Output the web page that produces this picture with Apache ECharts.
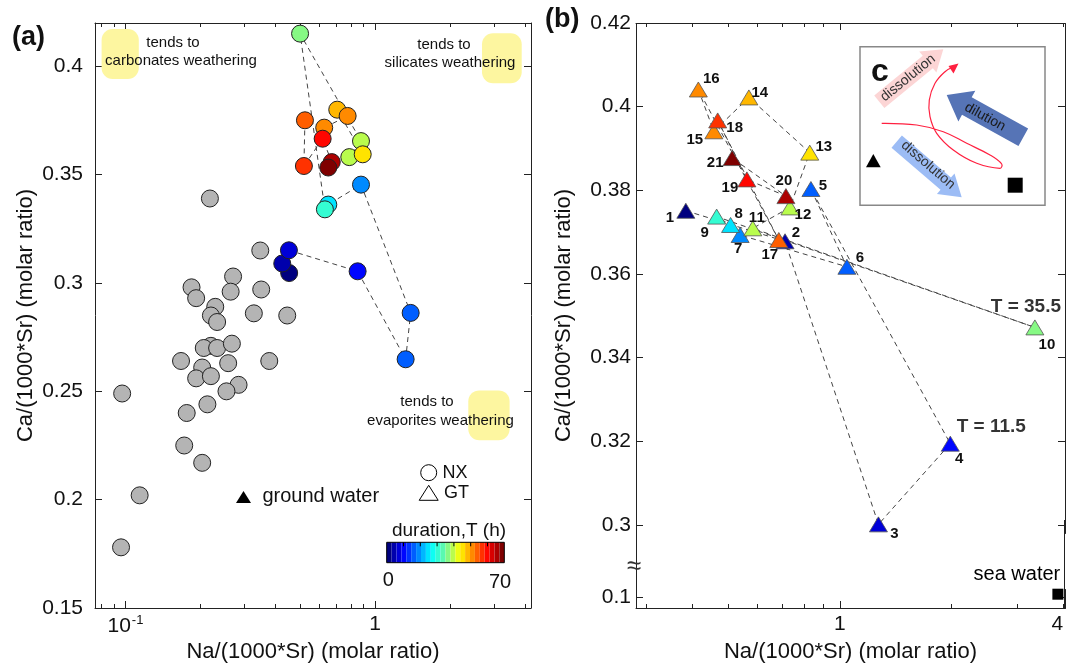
<!DOCTYPE html>
<html>
<head>
<meta charset="utf-8">
<script src="https://cdn.jsdelivr.net/npm/echarts@6.0.0/dist/echarts.min.js"></script>
<style>
  html, body { margin: 0; padding: 0; background: #fff; }
  #chart { width: 1066px; height: 669px; }
</style>
</head>
<body>
<div id="chart"></div>
<script>
const FONT = 'Liberation Sans, Arial, Helvetica, sans-serif';

// (a) grey samples
const greyNa = [0.218, 0.347, 0.270, 0.184, 0.192, 0.264, 0.350, 0.229, 0.220, 0.233, 0.327, 0.445, 0.220, 0.206, 0.233, 0.267,
  0.167, 0.203, 0.192, 0.220, 0.258, 0.377, 0.284, 0.254, 0.213, 0.176, 0.097, 0.172, 0.203, 0.114, 0.096];
const greyCa = [0.339, 0.315, 0.303, 0.298, 0.293, 0.296, 0.297, 0.289, 0.285, 0.282, 0.286, 0.285, 0.271, 0.270, 0.270, 0.272,
  0.264, 0.261, 0.256, 0.257, 0.263, 0.264, 0.253, 0.250, 0.244, 0.240, 0.249, 0.225, 0.217, 0.202, 0.178];

// (a) NX circles, samples 1..21
const nxNa = [0.453, 0.425, 0.452, 0.852, 1.327, 1.390, 0.879, 0.650, 0.630, 0.501, 0.879,
  0.789, 0.893, 0.706, 0.777, 0.626, 0.524, 0.519, 0.617, 0.671, 0.650];
const nxCa = [0.3046, 0.3090, 0.3151, 0.3054, 0.2648, 0.2862, 0.3454, 0.3362, 0.3340, 0.4151, 0.3655,
  0.3581, 0.3594, 0.3800, 0.3771, 0.3717, 0.3751, 0.3540, 0.3666, 0.3558, 0.3533];

// (b) GT triangles, samples 1..21
const gtNa = [0.384, 0.711, 1.27, 1.984, 0.835, 1.044, 0.538, 0.507, 0.465, 3.355, 0.582,
  0.733, 0.829, 0.568, 0.457, 0.415, 0.684, 0.468, 0.561, 0.715, 0.512];
const gtCa = [0.3751, 0.3678, 0.3001, 0.3194, 0.3803, 0.3617, 0.3693, 0.3717, 0.3737, 0.3472, 0.3709,
  0.3759, 0.3890, 0.4022, 0.3941, 0.4041, 0.3681, 0.3967, 0.3826, 0.3786, 0.3877];

// duration T (h) of samples 1..21
const duration = [0.5, 3.5, 7.5, 11.5, 15, 16.5, 19.5, 25, 30, 35.5, 38, 40.5, 44, 48, 50.5, 51.5, 54.5, 57, 61, 66, 68];

const seaWaterNa = [3.87];
const seaWaterCa = [0.1008];

const tNoteIndex = [3, 9];
const tNoteText = ['T = 11.5', 'T = 35.5'];

// ticks
const aMajorX = [0.1, 1];
const aMinorX = [0.08, 0.09, 0.2, 0.3, 0.4, 0.5, 0.6, 0.7, 0.8, 0.9, 2, 3, 4];
const aTicksY = [0.15, 0.2, 0.25, 0.3, 0.35, 0.4];
const bMajorX = [1];
const bLabelX = [1, 4];
const bMinorX = [0.3, 0.4, 0.5, 0.6, 0.7, 0.8, 0.9, 2, 3, 4];
const bTicksY = [0.1, 0.3, 0.32, 0.34, 0.36, 0.38, 0.4, 0.42];
const bBreak = [{ start: 0.102, end: 0.298, gap: 0.0134 }];

// label offsets of the sample numbers (px), style only
const gtLabelOffset = [[-16, 7], [11, -8], [16, 9], [9, 15], [12, -3], [13, -9], [-2, 14], [8, -11], [-12, 16], [12, 17], [4, -10],
  [13, 7], [14, -6], [11, -5], [-19, 9], [13, -11], [-9, 15], [17, 7], [-17, 8], [-2, -15], [-17, 5]];
const tNoteOffset = [[41, -17], [-9, -21]];

// jet, with the middle stop nudged toward the mint of the original
const jet = ['#00007f', '#0000ff', '#007fff', '#00ffff', '#6cf8a0', '#ffff00', '#ff7f00', '#ff0000', '#7f0000'];

const lineCol = '#222';
const A = { min: 0.0755, max: 4.22 };
const B = { min: 0.2818, max: 4.045 };

function xAxis(grid, pos, ext, ticks, len, opts) {
  opts = opts || {};
  return {
    type: 'log', logBase: 10, gridIndex: grid, position: pos, min: ext.min, max: ext.max,
    axisLine: { show: !!opts.line, onZero: false, lineStyle: { color: lineCol, width: 1 } },
    axisTick: { show: true, inside: true, length: len, customValues: ticks, lineStyle: { color: lineCol, width: 1 } },
    axisLabel: opts.labels ? {
      show: true, customValues: opts.labels, formatter: opts.fmt, margin: 6, alignMaxLabel: opts.alignMax,
      color: '#111', fontSize: 21, fontFamily: FONT, rich: opts.rich
    } : { show: false },
    splitLine: { show: false },
    name: opts.name, nameLocation: 'middle', nameGap: 33,
    nameTextStyle: { color: '#111', fontSize: 22, fontFamily: FONT }
  };
}

function yAxis(grid, pos, min, max, ticks, opts) {
  opts = opts || {};
  const ax = {
    type: 'value', gridIndex: grid, position: pos, min: min, max: max,
    axisLine: { show: true, onZero: false, lineStyle: { color: lineCol, width: 1 } },
    axisTick: { show: true, inside: true, length: 7, customValues: ticks, lineStyle: { color: lineCol, width: 1 } },
    axisLabel: opts.labels ? {
      show: true, customValues: ticks, margin: opts.margin, color: '#111', fontSize: 21, fontFamily: FONT
    } : { show: false },
    splitLine: { show: false },
    name: opts.name, nameLocation: 'middle', nameGap: opts.nameGap,
    nameTextStyle: { color: '#111', fontSize: 22, fontFamily: FONT }
  };
  if (opts.breaks) {
    ax.breaks = opts.breaks;
    ax.breakArea = {
      show: true, zigzagAmplitude: 0,
      itemStyle: { color: 'rgba(255,255,255,0)', borderColor: 'rgba(255,255,255,0)', borderWidth: 0, opacity: 0 }
    };
  }
  return ax;
}

function arrowPoints(tail, tip, sw, hw, hl) {
  const dx = tip[0] - tail[0], dy = tip[1] - tail[1];
  const L = Math.hypot(dx, dy), ux = dx / L, uy = dy / L, nx = -uy, ny = ux;
  const hx = tip[0] - ux * hl, hy = tip[1] - uy * hl;
  return [
    [tail[0] + nx * sw / 2, tail[1] + ny * sw / 2],
    [hx + nx * sw / 2, hy + ny * sw / 2],
    [hx + nx * hw / 2, hy + ny * hw / 2],
    tip,
    [hx - nx * hw / 2, hy - ny * hw / 2],
    [hx - nx * sw / 2, hy - ny * sw / 2],
    [tail[0] - nx * sw / 2, tail[1] - ny * sw / 2]
  ];
}

function txt(x, y, text, size, opts) {
  opts = opts || {};
  const align = opts.align || 'center';
  return {
    type: 'text', x: x, y: y, rotation: opts.rot || 0, z: 100, zlevel: opts.zlevel || 0, silent: true,
    style: {
      text: text, fill: opts.color || '#111',
      font: (opts.bold ? 'bold ' : '') + size + 'px ' + FONT,
      textAlign: align, align: align, textVerticalAlign: 'middle', verticalAlign: 'middle'
    }
  };
}

function poly(points, fill, stroke, lw) {
  return {
    type: 'polygon', z: 90, silent: true, shape: { points: points },
    style: { fill: fill, stroke: stroke || null, lineWidth: lw || 0 }
  };
}

function vline(x, y1, y2) {
  return {
    type: 'line', z: 100, zlevel: 1, silent: true,
    shape: { x1: x, y1: y1, x2: x, y2: y2 }, style: { stroke: lineCol, lineWidth: 1 }
  };
}

function yellowBox(x0, y0, x1, y1) {
  return {
    type: 'rect', z: 5, silent: true,
    shape: { x: x0, y: y0, width: x1 - x0, height: y1 - y0, r: 11 },
    style: { fill: '#fdf6a0' }
  };
}

// colorbar geometry (px)
const cb = { left: 386.7, top: 542.3, itemW: 4.9, h: 20.4, n: 24 };
const cbTicks = [];
for (let v = 10; v < 70; v += 10) {
  const x = cb.left + v / 70 * cb.itemW * cb.n;
  cbTicks.push({ type: 'line', z: 100, silent: true, shape: { x1: x, y1: cb.top, x2: x, y2: cb.top + 4 }, style: { stroke: '#000', lineWidth: 1 } });
}

const redCurve = [[881.7, 123.3], [916.7, 125], [943.3, 131.7], [966.7, 143.3], [990, 155], [1001.7, 164], [1000, 168.3],
  [976.7, 163.3], [953.3, 150], [936.7, 133.3], [930, 116.7], [929.3, 100], [935, 83.3], [945, 71.7], [953, 67]];

const graphic = [
  txt(12, 38, '(a)', 27, { bold: true, align: 'left' }),
  txt(545, 20, '(b)', 27, { bold: true, align: 'left' }),
  yellowBox(101.6, 29, 138.8, 79),
  yellowBox(482, 33.3, 521.7, 83.2),
  yellowBox(468.3, 390.4, 509.6, 440.3),
  txt(173, 43, 'tends to', 15),
  txt(181, 61, 'carbonates weathering', 15),
  txt(444, 45, 'tends to', 15),
  txt(450, 63, 'silicates weathering', 15),
  txt(427, 402, 'tends to', 15),
  txt(440.5, 421, 'evaporites weathering', 15),
  // legend NX / GT
  { type: 'circle', z: 100, silent: true, shape: { cx: 428.7, cy: 472.7, r: 8 }, style: { fill: '#fff', stroke: '#000', lineWidth: 1 } },
  txt(442.5, 473, 'NX', 18, { align: 'left' }),
  poly([[428.7, 485.3], [419.2, 500.3], [438.2, 500.3]], '#fff', '#000', 1),
  txt(444, 493, 'GT', 18, { align: 'left' }),
  poly([[243.5, 491], [236, 503], [251, 503]], '#000'),
  txt(262.4, 496, 'ground water', 20, { align: 'left' }),
  // colorbar decorations
  txt(449, 531, 'duration,T (h)', 19),
  { type: 'rect', z: 100, silent: true, shape: { x: cb.left, y: cb.top, width: cb.itemW * cb.n, height: cb.h }, style: { fill: 'none', stroke: '#000', lineWidth: 1 } },
  ...cbTicks,
  txt(388.3, 580, '0', 20),
  txt(500, 582, '70', 20),
  // frame through the axis break, and the break mark
  vline(636.5, 520, 608),
  vline(1064.5, 520, 608),
  txt(634, 567, '\u2248', 26, { color: '#333', zlevel: 1 }),
  // inset c
  { type: 'rect', z: 80, silent: true, shape: { x: 860, y: 46.7, width: 185, height: 158.5 }, style: { fill: '#fff', stroke: '#888', lineWidth: 1.5 } },
  txt(880, 72, 'c', 32, { bold: true }),
  poly(arrowPoints([879.3, 101.7], [943.3, 49.3], 16, 27, 20), '#fcd5d5'),
  poly(arrowPoints([1023.3, 137.3], [946.7, 95], 20, 35, 23), '#5674b6'),
  poly(arrowPoints([896.7, 141.7], [961.7, 197.3], 16, 27, 21), '#9cbcf5'),
  txt(908, 78, 'dissolution', 14, { rot: 0.68, color: '#333' }),
  txt(985, 117, 'dilution', 14, { rot: -0.50, color: '#1a1a1a' }),
  txt(928, 165, 'dissolution', 14, { rot: -0.71, color: '#333' }),
  { type: 'polyline', z: 95, silent: true, shape: { points: redCurve, smooth: 0.4 }, style: { stroke: '#ff2040', lineWidth: 1.2, fill: null } },
  poly([[958.5, 63.5], [948.5, 66], [953.5, 73.5]], '#ff2040'),
  poly([[873.3, 154], [866, 167.3], [880.7, 167.3]], '#000'),
  { type: 'rect', z: 95, silent: true, shape: { x: 1007.7, y: 177.7, width: 15, height: 15 }, style: { fill: '#000' } }
];

const chart = echarts.init(document.getElementById('chart'), null, { renderer: 'canvas' });

const option = {
  animation: false,
  backgroundColor: '#fff',
  textStyle: { fontFamily: FONT },
  grid: [
    { left: 95, top: 23, width: 436, height: 585, containLabel: false, outerBoundsMode: 'none' },
    { left: 636, top: 23, width: 429, height: 585, containLabel: false, outerBoundsMode: 'none' }
  ],
  xAxis: [
    xAxis(0, 'bottom', A, aMajorX, 7, {
      line: true, labels: aMajorX, name: 'Na/(1000*Sr) (molar ratio)',
      fmt: v => (v < 0.5 ? '10{sup|-1}' : '1'),
      rich: { sup: { fontSize: 13, fontFamily: FONT, color: '#111', padding: [0, 0, 11, 1] } }
    }),
    xAxis(0, 'bottom', A, aMinorX, 4),
    xAxis(0, 'top', A, aMajorX, 7, { line: true }),
    xAxis(0, 'top', A, aMinorX, 4),
    xAxis(1, 'bottom', B, bMajorX, 7, { line: true, labels: bLabelX, alignMax: 'right', name: 'Na/(1000*Sr) (molar ratio)' }),
    xAxis(1, 'bottom', B, bMinorX, 4),
    xAxis(1, 'top', B, bMajorX, 7, { line: true }),
    xAxis(1, 'top', B, bMinorX, 4)
  ],
  yAxis: [
    yAxis(0, 'left', 0.15, 0.42, aTicksY, { labels: true, margin: 12, name: 'Ca/(1000*Sr) (molar ratio)', nameGap: 58 }),
    yAxis(0, 'right', 0.15, 0.42, aTicksY),
    yAxis(1, 'left', 0.0975, 0.42, bTicksY, {
      labels: true, margin: 5, name: 'Ca/(1000*Sr) (molar ratio)', nameGap: 61, breaks: bBreak
    }),
    yAxis(1, 'right', 0.0975, 0.42, bTicksY, { breaks: bBreak })
  ],
  visualMap: [{
    type: 'piecewise', min: 0, max: 70, splitNumber: cb.n, dimension: 2, seriesIndex: [2, 4],
    orient: 'horizontal', left: cb.left, top: cb.top, padding: 0,
    itemWidth: cb.itemW, itemHeight: cb.h, itemGap: 0, itemSymbol: 'rect',
    showLabel: false, text: null, selectedMode: false, hoverLink: false,
    inRange: { color: jet }
  }],
  graphic: graphic,
  series: [
    {
      name: 'grey', type: 'scatter', xAxisIndex: 0, yAxisIndex: 0, symbol: 'circle', symbolSize: 17, z: 3,
      itemStyle: { color: '#b4b4b4', borderColor: '#222', borderWidth: 1, opacity: 1 },
      data: greyNa.map((x, i) => [x, greyCa[i]])
    },
    {
      name: 'NX path', type: 'line', xAxisIndex: 0, yAxisIndex: 0, symbol: 'none', z: 2, silent: true,
      lineStyle: { color: '#444', width: 1, type: [5, 4] },
      data: nxNa.map((x, i) => [x, nxCa[i]])
    },
    {
      name: 'NX', type: 'scatter', xAxisIndex: 0, yAxisIndex: 0, symbol: 'circle', symbolSize: 17, z: 4,
      itemStyle: { borderColor: '#222', borderWidth: 1, opacity: 1 },
      data: nxNa.map((x, i) => [x, nxCa[i], duration[i]])
    },
    {
      name: 'GT path', type: 'line', xAxisIndex: 4, yAxisIndex: 2, symbol: 'none', z: 2, silent: true,
      lineStyle: { color: '#444', width: 1, type: [5, 4] },
      data: gtNa.map((x, i) => [x, gtCa[i]])
    },
    {
      name: 'GT', type: 'scatter', xAxisIndex: 4, yAxisIndex: 2, symbol: 'triangle', symbolSize: [18, 15], z: 4,
      itemStyle: { borderColor: '#555', borderWidth: 0.8, opacity: 1 },
      label: {
        show: true, position: 'inside', color: '#111', fontWeight: 'bold', fontSize: 15, fontFamily: FONT,
        formatter: p => String(p.dataIndex + 1)
      },
      data: gtNa.map((x, i) => ({ value: [x, gtCa[i], duration[i]], label: { offset: gtLabelOffset[i] } }))
    },
    {
      name: 'T notes', type: 'scatter', xAxisIndex: 4, yAxisIndex: 2, symbolSize: 1, z: 5, silent: true,
      itemStyle: { color: 'rgba(0,0,0,0)' },
      label: {
        show: true, position: 'inside', color: '#000', fontWeight: 'bold', fontSize: 19, fontFamily: FONT,
        formatter: p => tNoteText[p.dataIndex]
      },
      data: tNoteIndex.map((idx, k) => ({ value: [gtNa[idx], gtCa[idx]], label: { offset: tNoteOffset[k] } }))
    },
    {
      name: 'sea water', type: 'scatter', xAxisIndex: 4, yAxisIndex: 2, symbol: 'rect', symbolSize: 11, z: 20,
      clip: false, silent: true,
      itemStyle: { color: '#000', opacity: 1 },
      label: {
        show: true, position: 'inside', offset: [-41, -20], color: '#000', opacity: 1,
        fontSize: 20, fontFamily: FONT, formatter: 'sea water'
      },
      data: seaWaterNa.map((x, i) => [x, seaWaterCa[i]])
    }
  ]
};

chart.setOption(option);
</script>
</body>
</html>
